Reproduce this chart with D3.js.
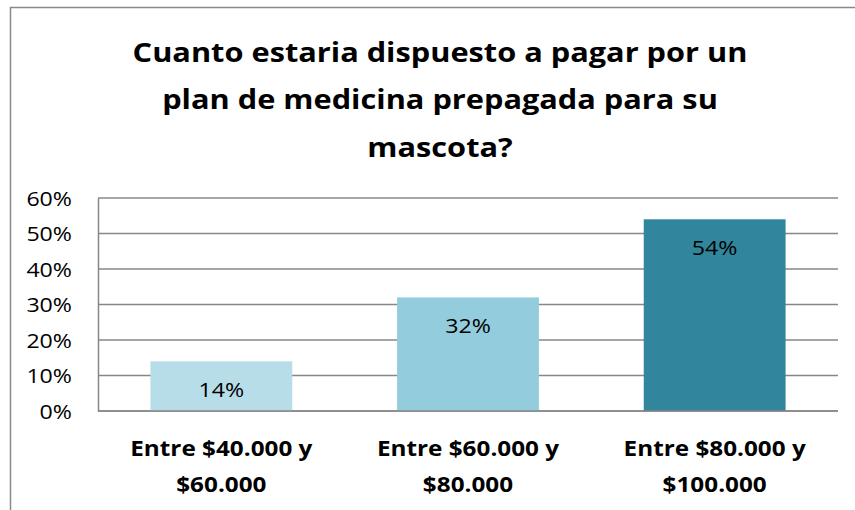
<!DOCTYPE html>
<html>
<head>
<meta charset="utf-8">
<script src="https://cdn.jsdelivr.net/npm/d3@7"></script>
<style>
  body { margin: 0; background: #fff; }
  svg { display: block; }
</style>
</head>
<body>
<div id="chart"></div>
<script>
// Chart data
const titleLines = ['Cuanto estaria dispuesto a pagar por un', 'plan de medicina prepagada para su', 'mascota?'];
const categories = [['Entre $40.000 y', '$60.000'], ['Entre $60.000 y', '$80.000'], ['Entre $80.000 y', '$100.000']];
const values = [0.14, 0.32, 0.54];
const barColors = ['#b7dde8', '#93cddd', '#31859c'];
const yTicks = [0, 0.1, 0.2, 0.3, 0.4, 0.5, 0.6];

const W = 855, H = 510;
const FONT = '"Open Sans", "Noto Sans", Arial, sans-serif';
const STRETCH = 1.13; // source text is a bit wider than Open Sans
const plot = { left: 98, right: 838, top: 198, bottom: 411 };

const svg = d3.select('#chart').append('svg')
  .attr('width', W).attr('height', H);

// place text at (x, y) with horizontal stretch
const place = (x, y) => `translate(${x},${y}) scale(${STRETCH},1)`;

// chart frame (only top and left visible)
svg.append('rect')
  .attr('x', 10.5).attr('y', 7.5)
  .attr('width', W + 10).attr('height', H + 10)
  .attr('fill', '#fff').attr('stroke', '#898989').attr('stroke-width', 1.5);

// title
svg.append('g').selectAll('text')
  .data(titleLines).join('text')
  .attr('transform', (d, i) => place(440, 61.5 + i * 47.7))
  .attr('text-anchor', 'middle')
  .attr('font-family', FONT).attr('font-weight', 'bold')
  .attr('font-size', 27.2).attr('fill', '#000')
  .text(d => d);

const x = d3.scaleBand()
  .domain(d3.range(categories.length))
  .range([plot.left, plot.right])
  .paddingInner(0.425).paddingOuter(0.2125);

const y = d3.scaleLinear().domain([0, 0.6]).range([plot.bottom, plot.top]);

// gridlines
svg.append('g').selectAll('line')
  .data(yTicks).join('line')
  .attr('x1', plot.left).attr('x2', plot.right)
  .attr('y1', d => y(d)).attr('y2', d => y(d))
  .attr('stroke', '#878787').attr('stroke-width', 1.5);

// y axis
const yAxis = svg.append('g')
  .attr('transform', `translate(${plot.left},0)`)
  .call(d3.axisLeft(y).tickValues(yTicks).tickFormat(d3.format('.0%')).tickSize(0));
yAxis.select('.domain').attr('stroke', '#878787').attr('stroke-width', 1.5);
yAxis.selectAll('.tick text')
  .attr('x', 0).attr('dy', '0.36em')
  .attr('transform', place(-26, 0))
  .attr('font-family', FONT).attr('font-size', 20.5).attr('fill', '#000');

// bars
svg.append('g').selectAll('rect')
  .data(values).join('rect')
  .attr('x', (d, i) => x(i)).attr('width', x.bandwidth())
  .attr('y', d => y(d)).attr('height', d => y(0) - y(d))
  .attr('fill', (d, i) => barColors[i]);

// bottom axis line over bars
svg.append('line')
  .attr('x1', plot.left).attr('x2', plot.right)
  .attr('y1', y(0)).attr('y2', y(0))
  .attr('stroke', '#878787').attr('stroke-width', 1.5);

// data labels
svg.append('g').selectAll('text')
  .data(values).join('text')
  .attr('transform', (d, i) => place(x(i) + x.bandwidth() / 2, y(d) + 36))
  .attr('text-anchor', 'middle')
  .attr('font-family', FONT).attr('font-size', 20.5).attr('fill', '#000')
  .text(d => d3.format('.0%')(d));

// category labels
const catG = svg.append('g').selectAll('text')
  .data(categories).join('text')
  .attr('transform', (d, i) => place(x(i) + x.bandwidth() / 2, 456))
  .attr('text-anchor', 'middle')
  .attr('font-family', FONT).attr('font-weight', 'bold')
  .attr('font-size', 21.5).attr('fill', '#000');
catG.selectAll('tspan')
  .data(d => d).join('tspan')
  .attr('x', 0)
  .attr('dy', (d, i) => i === 0 ? 0 : 36)
  .text(d => d);
</script>
</body>
</html>
